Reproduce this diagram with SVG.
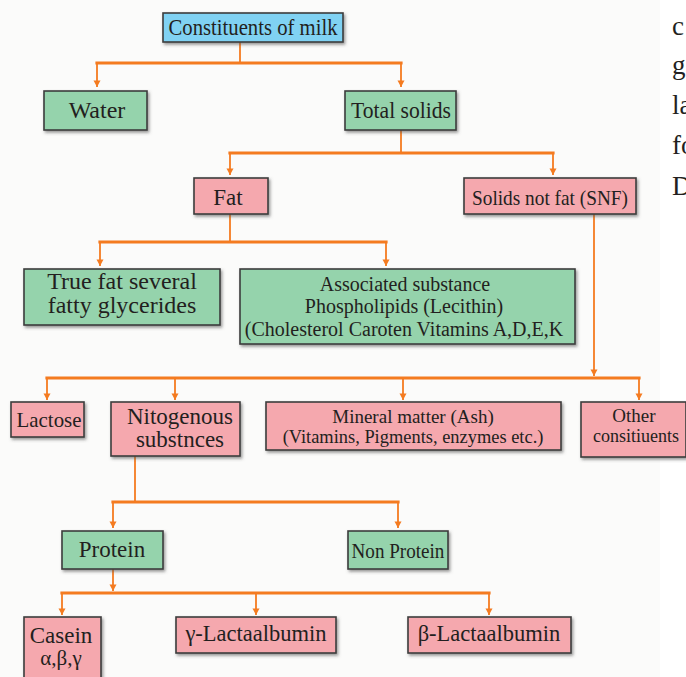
<svg xmlns="http://www.w3.org/2000/svg" width="686" height="677" viewBox="0 0 686 677">
<defs>
<style>
.t{font-family:"Liberation Serif","Times New Roman",serif;fill:#231f20;text-anchor:middle}
.side{font-family:"Liberation Serif","Times New Roman",serif;fill:#231f20;font-size:27px}
.box{stroke:#3d3d3d;stroke-width:1.6;filter:url(#sh)}
.blue{fill:#80d2f3}
.green{fill:#95d3ac}
.pink{fill:#f5a8ae}
.bus{stroke:#f47b20;stroke-width:3.2;fill:none;stroke-linecap:square}
.stem{stroke:#f47b20;stroke-width:1.8;fill:none}
</style>
<filter id="sh" x="-10%" y="-10%" width="125%" height="135%">
<feDropShadow dx="1.5" dy="2" stdDeviation="1.5" flood-color="#555" flood-opacity="0.6"/>
</filter>
<marker id="ad" markerWidth="8" markerHeight="8" refX="4" refY="7.5" markerUnits="userSpaceOnUse" viewBox="0 0 8 8">
<path d="M0.5,1 L7.5,1 L4,7.5 Z" fill="#f47b20"/>
</marker>
</defs>
<rect x="0" y="0" width="686" height="677" fill="#ffffff"/>
<rect x="0" y="0" width="660" height="677" fill="#fbfbfa"/>

<g id="connectors">
<path class="stem" d="M240,42 V63"/>
<path class="bus" d="M97,63 H401"/>
<path class="stem" d="M97,63 V87" marker-end="url(#ad)"/>
<path class="stem" d="M401,63 V87" marker-end="url(#ad)"/>
<path class="stem" d="M401,130 V153"/>
<path class="bus" d="M230,153 H553"/>
<path class="stem" d="M230,153 V175" marker-end="url(#ad)"/>
<path class="stem" d="M553,153 V175" marker-end="url(#ad)"/>
<path class="stem" d="M230,214 V242"/>
<path class="bus" d="M100,242 H386"/>
<path class="stem" d="M100,242 V266" marker-end="url(#ad)"/>
<path class="stem" d="M386,242 V266" marker-end="url(#ad)"/>
<path class="stem" d="M594,214 V376" marker-end="url(#ad)"/>
<path class="bus" d="M47,378 H639"/>
<path class="stem" d="M47,378 V400" marker-end="url(#ad)"/>
<path class="stem" d="M175,378 V400" marker-end="url(#ad)"/>
<path class="stem" d="M403,378 V400" marker-end="url(#ad)"/>
<path class="stem" d="M639,378 V400" marker-end="url(#ad)"/>
<path class="stem" d="M135,456 V502"/>
<path class="bus" d="M113,502 H398"/>
<path class="stem" d="M113,502 V528" marker-end="url(#ad)"/>
<path class="stem" d="M398,502 V528" marker-end="url(#ad)"/>
<path class="stem" d="M113,569 V591" marker-end="url(#ad)"/>
<path class="bus" d="M62,593 H489"/>
<path class="stem" d="M62,593 V615" marker-end="url(#ad)"/>
<path class="stem" d="M256,593 V615" marker-end="url(#ad)"/>
<path class="stem" d="M489,593 V615" marker-end="url(#ad)"/>
</g>

<g id="constituents">
<rect class="box blue" x="163" y="13" width="180" height="29"/>
<text class="t" transform="translate(253 35) scale(0.9 1)" font-size="23">Constituents of milk</text>
</g>
<g id="water">
<rect class="box green" x="44" y="91" width="103" height="39"/>
<text class="t" x="97" y="118" font-size="24">Water</text>
</g>
<g id="total-solids">
<rect class="box green" x="345" y="91" width="111" height="39"/>
<text class="t" transform="translate(401 118) scale(0.9 1)" font-size="24">Total solids</text>
</g>
<g id="fat">
<rect class="box pink" x="194" y="178" width="74" height="36"/>
<text class="t" x="228" y="205" font-size="23">Fat</text>
</g>
<g id="snf">
<rect class="box pink" x="464" y="178" width="172" height="36"/>
<text class="t" transform="translate(550 205) scale(0.92 1)" font-size="21">Solids not fat (SNF)</text>
</g>
<g id="true-fat">
<rect class="box green" x="24" y="269" width="196" height="56"/>
<text class="t" x="122" y="289" font-size="24">True fat several</text>
<text class="t" x="122" y="313" font-size="24">fatty glycerides</text>
</g>
<g id="associated">
<rect class="box green" x="240" y="269" width="335" height="75"/>
<text class="t" x="405" y="291" font-size="20">Associated substance</text>
<text class="t" x="404" y="313" font-size="20">Phospholipids (Lecithin)</text>
<text class="t" x="404" y="336" font-size="20">(Cholesterol Caroten Vitamins A,D,E,K</text>
</g>
<g id="lactose">
<rect class="box pink" x="11" y="402" width="73" height="35"/>
<text class="t" transform="translate(49 427) scale(0.95 1)" font-size="22">Lactose</text>
</g>
<g id="nitogenous">
<rect class="box pink" x="111" y="402" width="129" height="54"/>
<text class="t" x="180" y="424" font-size="23">Nitogenous</text>
<text class="t" x="180" y="447" font-size="23">substnces</text>
</g>
<g id="mineral">
<rect class="box pink" x="266" y="402" width="295" height="48"/>
<text class="t" x="413" y="423" font-size="19">Mineral matter (Ash)</text>
<text class="t" transform="translate(413 443) scale(0.97 1)" font-size="19">(Vitamins, Pigments, enzymes etc.)</text>
</g>
<g id="other">
<rect class="box pink" x="581" y="402" width="105" height="55"/>
<text class="t" x="634" y="422" font-size="19">Other</text>
<text class="t" transform="translate(636 442) scale(0.95 1)" font-size="19">consitiuents</text>
</g>
<g id="protein">
<rect class="box green" x="62" y="531" width="101" height="38"/>
<text class="t" x="112" y="557" font-size="23">Protein</text>
</g>
<g id="non-protein">
<rect class="box green" x="348" y="531" width="100" height="38"/>
<text class="t" transform="translate(398 558) scale(0.91 1)" font-size="21">Non Protein</text>
</g>
<g id="casein">
<rect class="box pink" x="24" y="617" width="77" height="66"/>
<text class="t" x="61" y="643" font-size="23">Casein</text>
<text class="t" x="61" y="665" font-size="21">α,β,γ</text>
</g>
<g id="gamma-lact">
<rect class="box pink" x="176" y="617" width="160" height="36"/>
<text class="t" x="256" y="641" font-size="22.5">γ-Lactaalbumin</text>
</g>
<g id="beta-lact">
<rect class="box pink" x="408" y="617" width="163" height="36"/>
<text class="t" x="489" y="641" font-size="22.5">β-Lactaalbumin</text>
</g>

<g id="side-text">
<text class="side" x="672" y="35">c</text>
<text class="side" x="672" y="74">g</text>
<text class="side" x="672" y="114">la</text>
<text class="side" x="672" y="154">fo</text>
<text class="side" x="672" y="195">D</text>
</g>
</svg>
